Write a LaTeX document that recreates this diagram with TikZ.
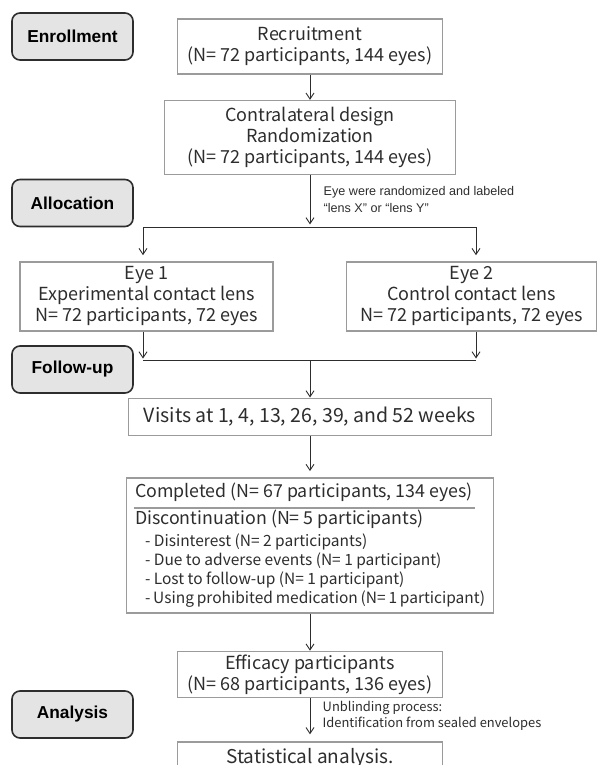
\documentclass[tikz,border=0pt]{standalone}
\usepackage{fontspec}
\setmainfont{Noto Sans CJK JP}
\newfontfamily\stagefont{Liberation Sans}
\usepackage{tikz}
\usetikzlibrary{arrows.meta, positioning, calc}
\usepackage{xcolor}
\definecolor{boxgray}{RGB}{155, 155, 155}
\definecolor{stagefill}{RGB}{228, 228, 228}
\definecolor{inkdark}{RGB}{45, 45, 45}

\begin{document}
\begin{tikzpicture}[x=1pt, y=1pt,
    stage/.style={draw=inkdark, fill=stagefill, rounded corners=8pt, line width=1.6pt, minimum width=121pt, minimum height=47pt, text=black, font=\stagefont\bfseries\fontsize{17.3}{20}\selectfont},
    flowbox/.style={draw=boxgray, line width=1.6pt, align=center, inner sep=0pt, text=inkdark, font=\fontsize{18}{21}\selectfont},
    arr/.style={-{Straight Barb[length=6pt, width=8pt]}, draw=inkdark, line width=0.9pt},
    link/.style={draw=inkdark, line width=0.9pt},
    note/.style={anchor=west, align=left, inner sep=0pt, text=inkdark}]
    \useasboundingbox (0,0) rectangle (597,-765);

    % stage labels on the left
    \node[stage] (enrol) at (72.5,-36.5) {Enrollment};
    \node[stage] (alloc) at (72.5,-203) {Allocation};
    \node[stage] (follow) at (72.5,-369.5) {Follow-up};
    \node[stage] (analys) at (72.5,-714.5) {Analysis};

    % main column
    \node[flowbox, minimum width=265pt, minimum height=55pt] (recruit) at (310,-46.5) {Recruitment\\(N= 72 participants, 144 eyes)};
    \node[flowbox, minimum width=291pt, minimum height=74pt, below=25pt of recruit] (random) {Contralateral design\\Randomization\\(N= 72 participants, 144 eyes)};
    \coordinate[below=52pt of random] (fork);
    \node[note, font=\stagefont\fontsize{12.6}{17}\selectfont] (labelnote) at (323.5,-199) {Eye were randomized and labeled\\“lens X” or “lens Y”};

    \node[flowbox, minimum width=253pt, minimum height=69pt] (eyeone) at (146.5,-296.5) {Eye 1\\Experimental contact lens\\N= 72 participants, 72 eyes};
    \node[flowbox, minimum width=250pt, minimum height=69pt] (eyetwo) at (471.5,-296.5) {Eye 2\\Control contact lens\\N= 72 participants, 72 eyes};
    \coordinate (merge) at (310,-360.5);

    \node[flowbox, minimum width=363pt, minimum height=37pt, below=37pt of merge, font=\fontsize{19.5}{22}\selectfont] (visits) {Visits at 1, 4, 13, 26, 39, and 52 weeks};
    \node[flowbox, minimum width=367pt, minimum height=135pt, below=41pt of visits] (done) {%
        \begin{minipage}{350pt}
        \fontsize{17.8}{20}\selectfont
        Completed (N= 67 participants, 134 eyes)\par
        \vspace{7pt}
        Discontinuation (N= 5 participants)\par
        \fontsize{15.5}{19}\selectfont
        \vspace{2.5pt}
        \hspace*{10pt}- Disinterest (N= 2 participants)\par
        \hspace*{10pt}- Due to adverse events (N= 1 participant)\par
        \hspace*{10pt}- Lost to follow-up (N= 1 participant)\par
        \hspace*{10pt}- Using prohibited medication (N= 1 participant)\par
        \end{minipage}};
    \coordinate (ruleleft) at ($(done.north west)+(8,-31)$);
    \coordinate (ruleright) at ($(done.north west)+(349,-31)$);

    \node[flowbox, minimum width=265pt, minimum height=46pt, below=37pt of done] (effic) {Efficacy participants\\(N= 68 participants, 136 eyes)};
    \node[note, font=\fontsize{12.9}{16}\selectfont] (blindnote) at (322.5,-716) {Unblinding process:\\Identification from sealed envelopes};
    \node[flowbox, minimum width=265pt, minimum height=33pt, below=43pt of effic, font=\fontsize{19}{22}\selectfont] (stats) {Statistical analysis.};

    % connectors
    \draw[arr] (recruit) -- (random);
    \draw[arr, shorten >=3pt] (random) -- (fork);
    \draw[link] ([xshift=-3.5pt]eyeone.north |- fork) -- ([xshift=4.5pt]eyetwo.north |- fork);
    \draw[arr, shorten >=6pt] ([xshift=-3.5pt]eyeone.north |- fork) -- ([xshift=-3.5pt]eyeone.north);
    \draw[arr, shorten >=6pt] ([xshift=4.5pt]eyetwo.north |- fork) -- ([xshift=4.5pt]eyetwo.north);
    \draw[arr, shorten >=2pt] ([xshift=-3.5pt]eyeone.south) -- ([xshift=-3.5pt]eyeone.south |- merge);
    \draw[arr, shorten >=2pt] ([xshift=4.5pt]eyetwo.south) -- ([xshift=4.5pt]eyetwo.south |- merge);
    \draw[link] ([xshift=-3.5pt]eyeone.south |- merge) -- ([xshift=4.5pt]eyetwo.south |- merge);
    \draw[arr] (merge) -- (visits);
    \draw[arr, shorten >=6pt] (visits) -- (done);
    \draw[boxgray, line width=1.4pt] (ruleleft) -- (ruleright);
    \draw[arr] (done) -- (effic);
    \draw[arr, shorten >=7pt] (effic) -- (stats);
\end{tikzpicture}
\end{document}
